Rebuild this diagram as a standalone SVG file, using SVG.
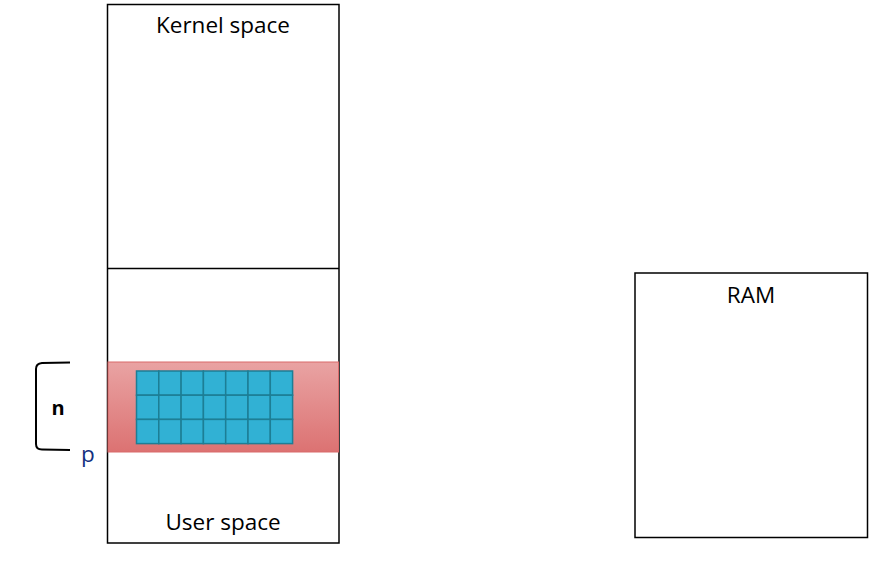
<svg xmlns="http://www.w3.org/2000/svg" width="884" height="569" viewBox="0 0 884 569">
<defs>
<linearGradient id="band" x1="0" y1="0" x2="0" y2="1">
<stop offset="0" stop-color="#E9A3A3"/>
<stop offset="1" stop-color="#DC7272"/>
</linearGradient>
<style>
.box{fill:#fff;stroke:#000;stroke-width:1.5}
.lbl{font-family:"Open Sans","Liberation Sans",sans-serif;font-size:22.5px;fill:#000;text-anchor:middle}
.cell{fill:#31B1D4;stroke:#1D7E95;stroke-width:1.5}
</style>
</defs>
<rect width="884" height="569" fill="#fff"/>
<g id="memory">
<rect class="box" x="107.5" y="4.5" width="231.5" height="538.5"/>
<line x1="107.5" y1="268.5" x2="339" y2="268.5" stroke="#000" stroke-width="1.5"/>
<text class="lbl" x="223" y="33">Kernel space</text>
<text class="lbl" x="223" y="530">User space</text>
</g>
<g id="buffer">
<rect x="108" y="362" width="230.5" height="90" fill="url(#band)" stroke="#D96A6A" stroke-width="1"/>
<g id="grid">
<rect class="cell" x="136.5" y="371" width="22.3" height="24.2"/>
<rect class="cell" x="158.8" y="371" width="22.3" height="24.2"/>
<rect class="cell" x="181.1" y="371" width="22.3" height="24.2"/>
<rect class="cell" x="203.4" y="371" width="22.3" height="24.2"/>
<rect class="cell" x="225.7" y="371" width="22.3" height="24.2"/>
<rect class="cell" x="248" y="371" width="22.3" height="24.2"/>
<rect class="cell" x="270.3" y="371" width="22.3" height="24.2"/>
<rect class="cell" x="136.5" y="395.2" width="22.3" height="24.2"/>
<rect class="cell" x="158.8" y="395.2" width="22.3" height="24.2"/>
<rect class="cell" x="181.1" y="395.2" width="22.3" height="24.2"/>
<rect class="cell" x="203.4" y="395.2" width="22.3" height="24.2"/>
<rect class="cell" x="225.7" y="395.2" width="22.3" height="24.2"/>
<rect class="cell" x="248" y="395.2" width="22.3" height="24.2"/>
<rect class="cell" x="270.3" y="395.2" width="22.3" height="24.2"/>
<rect class="cell" x="136.5" y="419.4" width="22.3" height="24.2"/>
<rect class="cell" x="158.8" y="419.4" width="22.3" height="24.2"/>
<rect class="cell" x="181.1" y="419.4" width="22.3" height="24.2"/>
<rect class="cell" x="203.4" y="419.4" width="22.3" height="24.2"/>
<rect class="cell" x="225.7" y="419.4" width="22.3" height="24.2"/>
<rect class="cell" x="248" y="419.4" width="22.3" height="24.2"/>
<rect class="cell" x="270.3" y="419.4" width="22.3" height="24.2"/>
</g>
</g>
<g id="brace">
<path d="M70,362.5 L42,363 Q36,363.5 36,369 L36,444 Q36,449.5 42,449.5 L70,450" fill="none" stroke="#000" stroke-width="2"/>
<text x="58" y="415" font-family="'Open Sans','Liberation Sans',sans-serif" font-size="20" font-weight="bold" text-anchor="middle">n</text>
<text x="88" y="462" font-family="'Open Sans','Liberation Sans',sans-serif" font-size="22.5" fill="#14307F" text-anchor="middle">p</text>
</g>
<g id="ram">
<rect class="box" x="635" y="273" width="232.5" height="264.5"/>
<text class="lbl" x="751" y="303">RAM</text>
</g>
</svg>
